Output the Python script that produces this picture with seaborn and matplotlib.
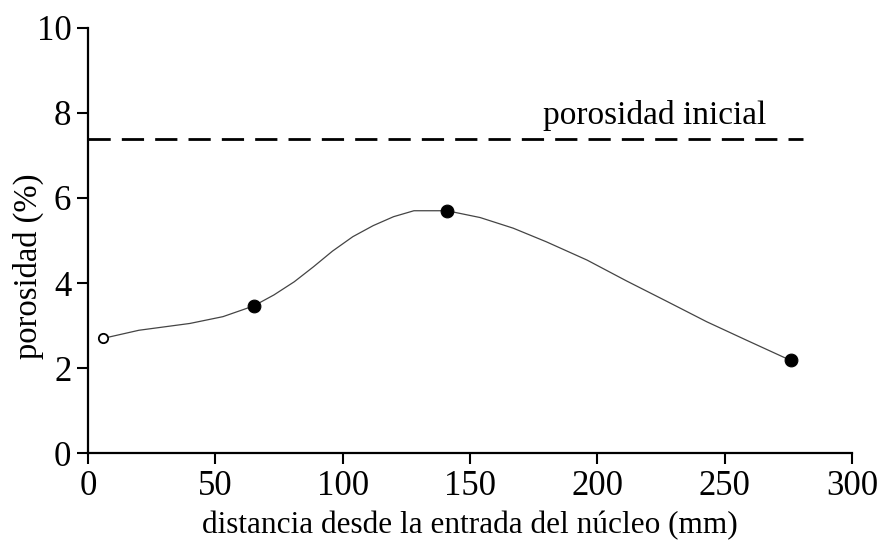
import matplotlib
matplotlib.use("Agg")
import matplotlib.pyplot as plt
import seaborn as sns
import pandas as pd

# measured points
point_x = [6, 65, 141, 276]
point_y = [2.70, 3.46, 5.70, 2.18]
point_open = [True, False, False, False]

# smooth curve
curve_x = [6, 20, 40, 53, 65, 73, 81, 88.5, 96, 104, 112, 120, 128, 141,
           154, 167, 180, 196, 211.5, 227, 243, 258.5, 276]
curve_y = [2.70, 2.89, 3.05, 3.21, 3.46, 3.72, 4.03, 4.38, 4.75, 5.09, 5.35, 5.56, 5.70, 5.70,
           5.54, 5.29, 4.97, 4.54, 4.05, 3.58, 3.09, 2.66, 2.18]

initial_porosity = 7.38
initial_x = [0, 281]
initial_label = "porosidad inicial"

x_ticks = [0, 50, 100, 150, 200, 250, 300]
y_ticks = [0, 2, 4, 6, 8, 10]
x_label = "distancia desde la entrada del núcleo (mm)"
y_label = "porosidad (%)"

sns.set_style("ticks", {"axes.edgecolor": "black", "text.color": "black",
                        "axes.labelcolor": "black", "xtick.color": "black",
                        "ytick.color": "black"})
plt.rcParams['font.family'] = ['Liberation Serif', 'DejaVu Serif']

fig = plt.figure(figsize=(8.82, 5.46), dpi=100)
ax = fig.add_axes([0.0998, 0.170, 0.866, 0.779])

curve_df = pd.DataFrame({"x": curve_x, "y": curve_y})
sns.lineplot(data=curve_df, x="x", y="y", ax=ax, color="#444444", lw=0.9,
             sort=False, estimator=None)

init_df = pd.DataFrame({"x": initial_x, "y": [initial_porosity] * len(initial_x)})
sns.lineplot(data=init_df, x="x", y="y", ax=ax, color="black", lw=2,
             linestyle=(0, (8, 4)), estimator=None)

pts = pd.DataFrame({"x": point_x, "y": point_y, "open": point_open})
filled = pts[~pts["open"]]
hollow = pts[pts["open"]]
sns.scatterplot(data=filled, x="x", y="y", ax=ax, color="black", s=85,
                edgecolor="black", zorder=5)
sns.scatterplot(data=hollow, x="x", y="y", ax=ax, facecolor="white", s=45,
                edgecolor="black", linewidth=1.3, zorder=5)

ax.text(222.5, 7.93, initial_label, ha="center", va="center", fontsize=24,
        color="black")

ax.set_xlim(0, 300)
ax.set_ylim(0, 10)
ax.set_xticks(x_ticks)
ax.set_yticks(y_ticks)
ax.tick_params(axis="both", labelsize=25, length=8, width=1.5, pad=4,
               colors="black")
ax.set_xlabel(x_label, fontsize=22.5, labelpad=6, color="black")
ax.set_ylabel(y_label, fontsize=23.5, color="black")
ax.yaxis.set_label_coords(-0.057, 0.44)
sns.despine(ax=ax)
for s in ["left", "bottom"]:
    ax.spines[s].set_linewidth(1.6)
    ax.spines[s].set_color("black")

fig.savefig("out.png", dpi=100)
